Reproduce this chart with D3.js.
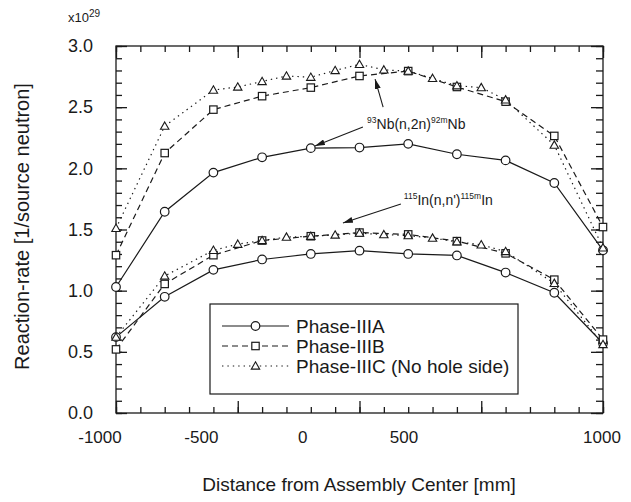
<!DOCTYPE html>
<html>
<head>
<meta charset="utf-8">
<script src="https://cdn.jsdelivr.net/npm/d3@7"></script>
<style>
  html, body { margin: 0; padding: 0; background: #fff; }
  svg { display: block; font-family: "Liberation Sans", Arial, Helvetica, sans-serif; }
</style>
</head>
<body>
<svg id="chart" width="631" height="502"></svg>
<script>
// Positions along the assembly axis [mm]
const posAB = [-1000, -800, -600, -400, -200, 0, 200, 400, 600, 800, 1000];
const posC  = [-1000, -800, -600, -500, -400, -300, -200, -100, 0, 100, 200, 300, 400, 500, 600, 800, 1000];

// 93Nb(n,2n)92mNb reaction rates (x1e-29 per source neutron)
const nbA = [1.03, 1.645, 1.965, 2.09, 2.165, 2.17, 2.20, 2.115, 2.065, 1.88, 1.33];
const nbB = [1.29, 2.125, 2.48, 2.59, 2.66, 2.755, 2.795, 2.665, 2.545, 2.265, 1.52];
const nbC = [1.51, 2.345, 2.64, 2.665, 2.71, 2.755, 2.745, 2.80, 2.85, 2.805, 2.795, 2.735, 2.675, 2.66, 2.56, 2.19, 1.35];

// 115In(n,n')115mIn reaction rates (x1e-29 per source neutron)
const inA = [0.62, 0.95, 1.17, 1.255, 1.30, 1.327, 1.30, 1.288, 1.148, 0.983, 0.57];
const inB = [0.52, 1.055, 1.29, 1.41, 1.445, 1.475, 1.46, 1.405, 1.305, 1.09, 0.60];
const inC = [0.62, 1.12, 1.33, 1.38, 1.41, 1.438, 1.445, 1.455, 1.47, 1.458, 1.45, 1.43, 1.40, 1.375, 1.32, 1.06, 0.56];

const seriesNames = ["Phase-IIIA", "Phase-IIIB", "Phase-IIIC (No hole side)"];
const xTickLabels = [-1000, -500, 0, 500, 1000];
const yTickLabels = [0, 0.5, 1.0, 1.5, 2.0, 2.5, 3.0];

const ink = "#1a1a1a";
const svg = d3.select("#chart");

const plot = { left: 116, right: 603, top: 46, bottom: 413 };
const x = d3.scaleLinear().domain([-1000, 1000]).range([plot.left, plot.right]);
const y = d3.scaleLinear().domain([0, 3]).range([plot.bottom, plot.top]);
// tick captions sit slightly offset from the tick marks along the bottom
const xLabelPos = d3.scaleLinear().domain([-1000, 500, 1000]).range([100, 404, 602]);

const styles = [
  { dash: null,  marker: "circle" },
  { dash: "6,4", marker: "square" },
  { dash: "1.4,4", marker: "triangle" }
];

// frame
svg.append("rect")
  .attr("x", plot.left).attr("y", plot.top)
  .attr("width", plot.right - plot.left).attr("height", plot.bottom - plot.top)
  .attr("fill", "none").attr("stroke", ink).attr("stroke-width", 1.3);

// inward ticks on all four sides
function ticks(axisFn, scale, values, size, transform) {
  const g = svg.append("g").attr("transform", transform)
    .call(axisFn(scale).tickValues(values).tickSize(-size).tickFormat(""));
  g.select(".domain").remove();
  g.selectAll(".tick line").attr("stroke", ink).attr("stroke-width", 1.3);
  return g;
}
const xMinor = d3.range(-1000, 1001, 100);
const yMinor = d3.range(0, 31).map(d => d / 10);
ticks(d3.axisBottom, x, xMinor, 6, `translate(0,${plot.bottom})`);
ticks(d3.axisBottom, x, xTickLabels, 12, `translate(0,${plot.bottom})`);
ticks(d3.axisTop, x, xMinor, 6, `translate(0,${plot.top})`);
ticks(d3.axisTop, x, xTickLabels, 12, `translate(0,${plot.top})`);
ticks(d3.axisRight, y, yMinor, 7, `translate(${plot.right},0)`);
ticks(d3.axisRight, y, yTickLabels, 12, `translate(${plot.right},0)`);
ticks(d3.axisLeft, y, yMinor, 6, `translate(${plot.left},0)`);

// left axis with labels
const yAxis = svg.append("g").attr("transform", `translate(${plot.left},0)`)
  .call(d3.axisLeft(y).tickValues(yTickLabels).tickSize(-11).tickPadding(23)
    .tickFormat(d3.format(".1f")));
yAxis.select(".domain").remove();
yAxis.selectAll(".tick line").attr("stroke", ink).attr("stroke-width", 1.3);
yAxis.selectAll(".tick text").attr("fill", ink).attr("font-size", 18)
  .attr("font-family", "Liberation Sans, Arial, sans-serif");

// bottom captions
svg.append("g").selectAll("text").data(xTickLabels).join("text")
  .attr("x", d => xLabelPos(d)).attr("y", 443)
  .attr("text-anchor", "middle").attr("font-size", 17).attr("fill", ink)
  .text(d => d);

// exponent
const expo = svg.append("text").attr("x", 68).attr("y", 22).attr("font-size", 13).attr("fill", ink);
expo.append("tspan").text("x10");
expo.append("tspan").attr("dy", -5).attr("font-size", 10).text("29");

// axis titles
svg.append("text")
  .attr("transform", `translate(29,${(plot.top + plot.bottom) / 2 - 3}) rotate(-90)`)
  .attr("text-anchor", "middle").attr("font-size", 20).attr("fill", ink)
  .text("Reaction-rate [1/source neutron]");
svg.append("text")
  .attr("x", 359).attr("y", 491)
  .attr("text-anchor", "middle").attr("font-size", 19).attr("fill", ink)
  .text("Distance from Assembly Center [mm]");

// series lines and markers
const line = d3.line().x(d => x(d[0])).y(d => y(d[1]));

function drawMarker(g, type, cx, cy) {
  if (type === "circle") {
    g.append("circle").attr("cx", cx).attr("cy", cy).attr("r", 4.3)
      .attr("fill", "#fff").attr("stroke", ink).attr("stroke-width", 1.2);
  } else if (type === "square") {
    g.append("rect").attr("x", cx - 3.7).attr("y", cy - 3.7).attr("width", 7.4).attr("height", 7.4)
      .attr("fill", "#fff").attr("stroke", ink).attr("stroke-width", 1.2);
  } else {
    const s = 4.2;
    g.append("path")
      .attr("d", `M${cx},${cy - s}L${cx + s},${cy + s * 0.75}L${cx - s},${cy + s * 0.75}Z`)
      .attr("fill", "#fff").attr("stroke", ink).attr("stroke-width", 1.1);
  }
}

const sets = [
  { xs: posAB, ys: nbA, st: styles[0] },
  { xs: posAB, ys: nbB, st: styles[1] },
  { xs: posC,  ys: nbC, st: styles[2] },
  { xs: posAB, ys: inA, st: styles[0] },
  { xs: posAB, ys: inB, st: styles[1] },
  { xs: posC,  ys: inC, st: styles[2] }
];

const linesG = svg.append("g");
sets.forEach(s => {
  const pts = s.xs.map((v, i) => [v, s.ys[i]]);
  linesG.append("path").attr("d", line(pts))
    .attr("fill", "none").attr("stroke", ink).attr("stroke-width", 1.2)
    .attr("stroke-dasharray", s.st.dash);
});
const markG = svg.append("g");
sets.forEach(s => {
  s.xs.forEach((v, i) => drawMarker(markG, s.st.marker, x(v), y(s.ys[i])));
});

// annotations
svg.append("defs").append("marker")
  .attr("id", "head").attr("viewBox", "0 0 10 6").attr("refX", 10).attr("refY", 3)
  .attr("markerWidth", 10).attr("markerHeight", 6).attr("markerUnits", "userSpaceOnUse")
  .attr("orient", "auto")
  .append("path").attr("d", "M0,0L10,3L0,6Z").attr("fill", ink);

const arrows = [
  { from: [14, 2.338], to: [-183, 2.183] },
  { from: [97, 2.50], to: [64, 2.73] },
  { from: [170, 1.708], to: [-68, 1.553] }
];
svg.append("g").selectAll("line").data(arrows).join("line")
  .attr("x1", d => x(d.from[0])).attr("y1", d => y(d.from[1]))
  .attr("x2", d => x(d.to[0])).attr("y2", d => y(d.to[1]))
  .attr("stroke", ink).attr("stroke-width", 1.1).attr("marker-end", "url(#head)");

function nuclide(xv, yv, parts) {
  const t = svg.append("text").attr("x", x(xv)).attr("y", y(yv)).attr("font-size", 14).attr("fill", ink);
  let up = false;
  parts.forEach(([txt, sup]) => {
    const sp = t.append("tspan").text(txt);
    if (sup && !up) { sp.attr("dy", -6).attr("font-size", 8.5); up = true; }
    else if (!sup && up) { sp.attr("dy", 6); up = false; }
    else if (sup) sp.attr("font-size", 8.5);
  });
}
nuclide(31, 2.32, [["93", true], ["Nb(n,2n)", false], ["92m", true], ["Nb", false]]);
nuclide(182, 1.70, [["115", true], ["In(n,n')", false], ["115m", true], ["In", false]]);

// legend
const lg = svg.append("g");
lg.append("rect").attr("x", 210).attr("y", 304).attr("width", 308).attr("height", 90)
  .attr("fill", "#fff").attr("stroke", ink).attr("stroke-width", 1.2);
seriesNames.forEach((name, i) => {
  const cy = 326 + i * 20;
  lg.append("line").attr("x1", 222).attr("x2", 289).attr("y1", cy).attr("y2", cy)
    .attr("stroke", ink).attr("stroke-width", 1.2).attr("stroke-dasharray", styles[i].dash);
  drawMarker(lg, styles[i].marker, 255.5, cy);
  lg.append("text").attr("x", 296).attr("y", cy + 7).attr("font-size", 19).attr("fill", ink).text(name);
});
</script>
</body>
</html>
